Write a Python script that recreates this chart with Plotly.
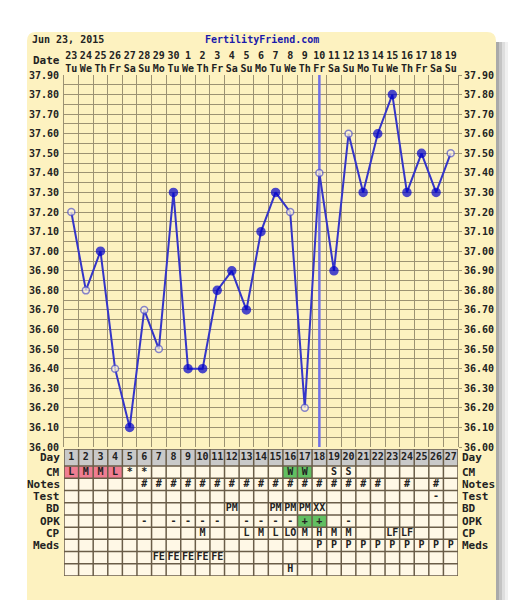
import plotly.graph_objects as go

# --- data ---------------------------------------------------------------
days = list(range(1, 28))
date_nums = ["23", "24", "25", "26", "27", "28", "29", "30", "1", "2", "3", "4", "5", "6",
             "7", "8", "9", "10", "11", "12", "13", "14", "15", "16", "17", "18", "19"]
weekdays = ["Tu", "We", "Th", "Fr", "Sa", "Su", "Mo", "Tu", "We", "Th", "Fr", "Sa", "Su", "Mo",
            "Tu", "We", "Th", "Fr", "Sa", "Su", "Mo", "Tu", "We", "Th", "Fr", "Sa", "Su"]
temps = [37.20, 36.80, 37.00, 36.40, 36.10, 36.70, 36.50, 37.30, 36.40, 36.40, 36.80, 36.90, 36.70,
         37.10, 37.30, 37.20, 36.20, 37.40, 36.90, 37.60, 37.30, 37.60, 37.80, 37.30, 37.50, 37.30, 37.50]
open_days = [1, 2, 4, 6, 7, 16, 17, 18, 20, 27]
ovulation_day = 18
temp_ticks = [36.0, 36.1, 36.2, 36.3, 36.4, 36.5, 36.6, 36.7, 36.8, 36.9,
              37.0, 37.1, 37.2, 37.3, 37.4, 37.5, 37.6, 37.7, 37.8, 37.9]
temp_labels = ["36.00", "36.10", "36.20", "36.30", "36.40", "36.50", "36.60", "36.70", "36.80", "36.90",
               "37.00", "37.10", "37.20", "37.30", "37.40", "37.50", "37.60", "37.70", "37.80", "37.90"]

row_labels = ["Day", "CM", "Notes", "Test", "BD", "OPK", "CP", "Meds", "", ""]
cm = ["L", "M", "M", "L", "*", "*", "", "", "", "", "", "", "", "", "", "W", "W", "", "S", "S",
      "", "", "", "", "", "", ""]
notes = ["", "", "", "", "", "#", "#", "#", "#", "#", "#", "#", "#", "#", "#", "#", "#", "#", "#", "#",
         "#", "#", "", "#", "", "#", ""]
test = ["", "", "", "", "", "", "", "", "", "", "", "", "", "", "", "", "", "", "", "",
        "", "", "", "", "", "-", ""]
bd = ["", "", "", "", "", "", "", "", "", "", "", "PM", "", "", "PM", "PM", "PM", "XX", "", "",
      "", "", "", "", "", "", ""]
opk = ["", "", "", "", "", "-", "", "-", "-", "-", "-", "", "-", "-", "-", "-", "+", "+", "", "-",
       "", "", "", "", "", "", ""]
cp = ["", "", "", "", "", "", "", "", "", "M", "", "", "L", "M", "L", "LO", "M", "H", "M", "M",
      "", "", "LF", "LF", "", "", ""]
meds = ["", "", "", "", "", "", "", "", "", "", "", "", "", "", "", "", "", "P", "P", "P",
        "P", "P", "P", "P", "P", "P", "P"]
extra1 = ["", "", "", "", "", "", "FE", "FE", "FE", "FE", "FE", "", "", "", "", "", "", "", "", "",
          "", "", "", "", "", "", ""]
extra2 = ["", "", "", "", "", "", "", "", "", "", "", "", "", "", "", "H", "", "", "", "",
          "", "", "", "", "", "", ""]
period_days = [1, 2, 3, 4]
fertile_cm_days = [16, 17]
opk_positive_days = [17, 18]

# --- geometry -------------------------------------------------------------
# page body has an 8px margin, so the figure sits 8px right/down on screen
W, H = 525, 600
OFF = 8
SX0, SX1, SY0, SY1 = 64, 458, 75, 576   # plot area on screen
ML, MR = SX0 - OFF, W - (SX1 - OFF)
MT, MB = SY0 - OFF, H - (SY1 - OFF)
FONT = "DejaVu Sans Mono"
BEIGE = "#fef3c4"
GRID = "#9c9272"
BORDER = "#6a5d48"
BLUE = "#0000cc"


def px(x):
    return (x - SX0) / (SX1 - SX0)


def py(y):
    return (SY1 - y) / (SY1 - SY0)


# table rows: day row is taller than the others
row_top = [0, 1.4, 2.4, 3.4, 4.4, 5.4, 6.4, 7.4, 8.4, 9.4]
row_bot = [1.4, 2.4, 3.4, 4.4, 5.4, 6.4, 7.4, 8.4, 9.4, 10.4]
row_mid = [(a + b) / 2 for a, b in zip(row_top, row_bot)]

fig = go.Figure()

# temperature line
is_open = [d in open_days for d in days]
fig.add_trace(go.Scatter(
    x=days, y=temps, mode="lines+markers",
    line=dict(color="#3535c8", width=2),
    marker=dict(
        size=[7 if o else 8 for o in is_open],
        color=["#fff6dc" if o else BLUE for o in is_open],
        line=dict(color=["#5656cc" if o else BLUE for o in is_open], width=1.5),
    ),
    showlegend=False, hoverinfo="x+y",
))
# dummy trace for right temperature axis
fig.add_trace(go.Scatter(x=[days[0]], y=[temps[0]], yaxis="y3", mode="markers",
                         marker=dict(opacity=0), showlegend=False, hoverinfo="skip"))

# table text
rows = [[str(d) for d in days], cm, notes, test, bd, opk, cp, meds, extra1, extra2]
tx, ty, tt = [], [], []
for r, vals in enumerate(rows):
    for d, v in zip(days, vals):
        if v:
            tx.append(d)
            ty.append(row_mid[r])
            tt.append(v)
fig.add_trace(go.Scatter(
    x=tx, y=ty, text=tt, mode="text", yaxis="y2",
    textfont=dict(family=FONT, size=10, color="#222", weight="bold"),
    showlegend=False, hoverinfo="skip",
))

shapes = []
# outer page decorations
shapes.append(dict(type="rect", xref="paper", yref="paper", x0=px(63), x1=px(489), y0=py(-5), y1=py(7),
                   line=dict(color="#666", width=2), fillcolor="white", layer="below"))
for x0, c in [(496, "#a9a9a9"), (499, "#c4c4c4"), (502, "#dedede"), (505, "#f0f0f0")]:
    shapes.append(dict(type="rect", xref="paper", yref="paper", x0=px(x0), x1=px(x0 + 3),
                       y0=py(610), y1=py(42), line=dict(width=0), fillcolor=c, layer="below"))
r = 9
x0, x1, y0, y1 = 27, 496, 32, 610
path = (f"M {px(x0)},{py(y1)} L {px(x0)},{py(y0 + r)} Q {px(x0)},{py(y0)} {px(x0 + r)},{py(y0)} "
        f"L {px(x1 - r)},{py(y0)} Q {px(x1)},{py(y0)} {px(x1)},{py(y0 + r)} L {px(x1)},{py(y1)} Z")
shapes.append(dict(type="path", xref="paper", yref="paper", path=path,
                   fillcolor="#fdf2c0", line=dict(width=0), layer="below"))

# ovulation line
shapes.append(dict(type="line", xref="x", yref="y", x0=ovulation_day, x1=ovulation_day,
                   y0=temp_ticks[0], y1=temp_ticks[-1], line=dict(color="#7070e6", width=2.5),
                   layer="between"))

# table cells
shapes.append(dict(type="rect", xref="x", yref="y2", x0=0.5, x1=27.5, y0=row_top[0], y1=row_bot[-1],
                   fillcolor="#fff8e6", line=dict(width=0), layer="between"))
shapes.append(dict(type="rect", xref="x", yref="y2", x0=0.5, x1=27.5, y0=row_top[0], y1=row_bot[0],
                   fillcolor="#c9c9c9", line=dict(width=0), layer="between"))
for days_list, ri, col in [(period_days, 1, "#ef7d91"), (fertile_cm_days, 1, "#62bf62"),
                           (opk_positive_days, 5, "#62bf62")]:
    for d in days_list:
        shapes.append(dict(type="rect", xref="x", yref="y2", x0=d - 0.5, x1=d + 0.5,
                           y0=row_top[ri], y1=row_bot[ri], fillcolor=col, line=dict(width=0),
                           layer="between"))
for k in range(28):
    shapes.append(dict(type="line", xref="x", yref="y2", x0=k + 0.5, x1=k + 0.5,
                       y0=row_top[0], y1=row_bot[-1], line=dict(color=BORDER, width=1.5),
                       layer="between"))
for yv in row_top + [row_bot[-1]]:
    shapes.append(dict(type="line", xref="x", yref="y2", x0=0.5, x1=27.5, y0=yv, y1=yv,
                       line=dict(color=BORDER, width=1.5), layer="between"))

annotations = []
lab_font = dict(family=FONT, size=10, color="#222", weight="bold")
annotations.append(dict(x=px(30), y=py(40), xref="paper", yref="paper", text="Jun 23, 2015",
                        showarrow=False, xanchor="left", yanchor="middle", font=lab_font))
annotations.append(dict(x=px(262), y=py(40), xref="paper", yref="paper", text="FertilityFriend.com",
                        showarrow=False, xanchor="center", yanchor="middle",
                        font=dict(family=FONT, size=10, color="#1a1aaa", weight="bold")))
annotations.append(dict(x=px(62), y=py(61), xref="paper", yref="paper", text="Date",
                        showarrow=False, xanchor="right", yanchor="middle",
                        font=dict(family=FONT, size=11, color="#222", weight="bold")))
for lab, ym in zip(row_labels, row_mid):
    if not lab:
        continue
    annotations.append(dict(x=px(62), y=ym, xref="paper", yref="y2", text=lab, showarrow=False,
                            xanchor="right", yanchor="middle",
                            font=dict(family=FONT, size=11, color="#222", weight="bold")))
    annotations.append(dict(x=px(460), y=ym, xref="paper", yref="y2", text=lab, showarrow=False,
                            xanchor="left", yanchor="middle",
                            font=dict(family=FONT, size=11, color="#222", weight="bold")))

tick_font = dict(family=FONT, size=10, color="#222", weight="bold")
fig.update_layout(
    template="none",
    width=W, height=H,
    margin=dict(l=ML, r=MR, t=MT, b=MB, autoexpand=False),
    paper_bgcolor="white", plot_bgcolor=BEIGE,
    shapes=shapes, annotations=annotations,
    xaxis=dict(
        range=[0.5, 27.5], side="top", anchor="y", automargin=False,
        tickvals=days, ticktext=[f"{n}<br>{w}" for n, w in zip(date_nums, weekdays)],
        tickfont=tick_font, ticks="", showgrid=False, zeroline=False, ticklabelstandoff=0,
        minor=dict(tickvals=[k + 0.5 for k in range(28)], showgrid=True, gridcolor=GRID, gridwidth=1),
        showline=False, fixedrange=True,
    ),
    yaxis=dict(
        domain=[py(447), 1], range=[temp_ticks[0], temp_ticks[-1]], automargin=False,
        tickvals=temp_ticks, ticktext=temp_labels, tickfont=tick_font,
        ticks="", ticklabelstandoff=2, showgrid=True, gridcolor=GRID, gridwidth=1,
        minor=dict(dtick=0.05, tick0=36.0, showgrid=True, gridcolor=GRID, gridwidth=1),
        zeroline=False, showline=True, linecolor=GRID, mirror=True,
    ),
    yaxis3=dict(
        overlaying="y", side="right", anchor="x", range=[temp_ticks[0], temp_ticks[-1]],
        automargin=False,
        tickvals=temp_ticks, ticktext=temp_labels, tickfont=tick_font,
        ticks="outside", ticklen=3, tickcolor=GRID, showgrid=False, zeroline=False,
    ),
    yaxis2=dict(
        domain=[0, py(449)], range=[row_bot[-1], row_top[0]], anchor="x", automargin=False,
        showticklabels=False, showgrid=False, zeroline=False, ticks="",
    ),
)

fig.write_html("out.html")
